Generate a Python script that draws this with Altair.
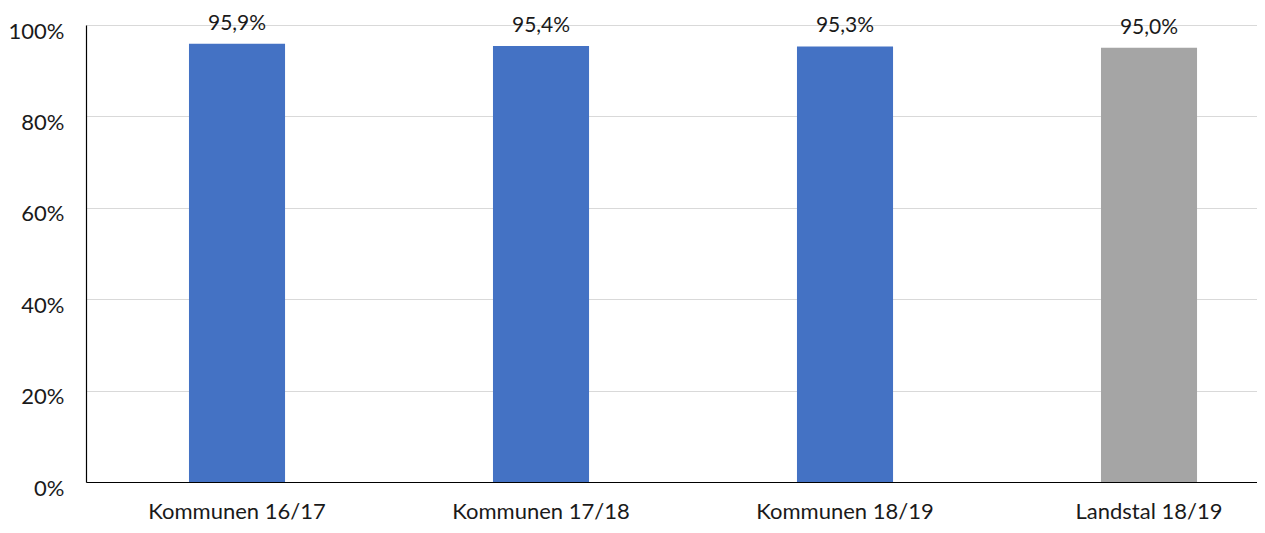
import altair as alt
import pandas as pd

categories = ["Kommunen 16/17", "Kommunen 17/18", "Kommunen 18/19", "Landstal 18/19"]
values = [0.959, 0.954, 0.953, 0.950]
groups = ["Kommunen", "Kommunen", "Kommunen", "Landstal"]
labels = [f"{v*100:.1f}%".replace(".", ",") for v in values]

df = pd.DataFrame({"cat": categories, "val": values, "grp": groups, "lbl": labels})

FONT = "Lato"
FS = 22
x = alt.X("cat:N", sort=categories, title=None,
          scale=alt.Scale(paddingInner=0.684, paddingOuter=0.268, align=0.632),
          axis=alt.Axis(labelAngle=0, labelFontSize=FS, labelFont=FONT, labelColor="#1a1a1a",
                        ticks=False, domainColor="#000000", domainWidth=1.2, labelPadding=36,
                        labelBaseline="alphabetic", grid=False))

bars = alt.Chart(df).mark_bar().encode(
    x=x,
    y=alt.Y("val:Q", title=None,
            scale=alt.Scale(domain=[0, 1]),
            axis=alt.Axis(values=[0, 0.2, 0.4, 0.6, 0.8, 1.0], format=".0%",
                          labelFontSize=FS, labelFont=FONT, labelColor="#1a1a1a",
                          ticks=False, domainColor="#000000", domainWidth=1.2,
                          gridColor="#D9D9D9", gridWidth=1.2, labelPadding=22,
                          labelOffset=6)),
    color=alt.Color("grp:N", legend=None,
                    scale=alt.Scale(domain=["Kommunen", "Landstal"], range=["#4472C4", "#A5A5A5"])),
)

text = alt.Chart(df).mark_text(baseline="alphabetic", dy=-14, fontSize=21, font=FONT,
                               color="#1a1a1a").encode(
    x=alt.X("cat:N", sort=categories),
    y="val:Q",
    text="lbl:N",
)

chart = (bars + text).properties(
    width=1171, height=457,
    padding={"left": 78, "top": 17, "right": 0, "bottom": 43},
    autosize=alt.AutoSizeParams(type="none"),
).configure_view(stroke=None)

chart.save("out.html", embed_options={"renderer": "svg", "actions": False})
